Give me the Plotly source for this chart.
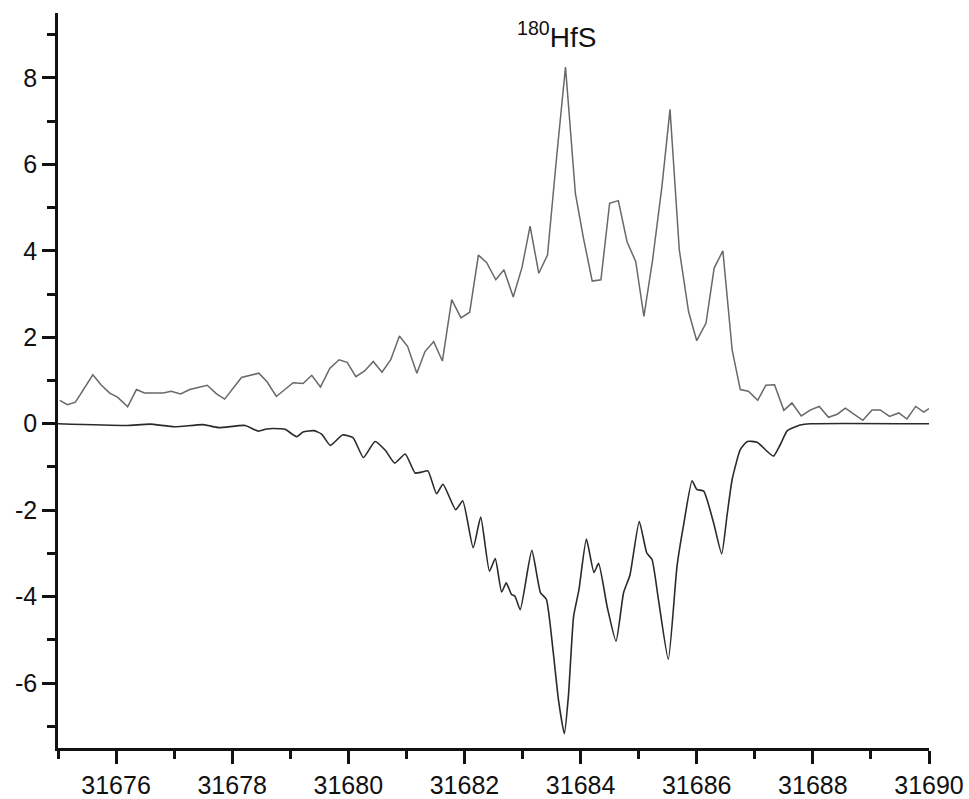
import plotly.graph_objects as go

# Experimental (upper) trace
exp_x = [31675.03, 31675.16, 31675.30, 31675.60, 31675.74, 31675.89, 31676.03, 31676.20,
         31676.35, 31676.49, 31676.66, 31676.81, 31676.95, 31677.11, 31677.27, 31677.41,
         31677.57, 31677.73, 31677.87, 31678.16, 31678.30, 31678.46, 31678.60, 31678.76,
         31679.05, 31679.22, 31679.37, 31679.52, 31679.68, 31679.84, 31679.98, 31680.13,
         31680.28, 31680.43, 31680.58, 31680.73, 31680.88, 31681.02, 31681.18, 31681.32,
         31681.47, 31681.62, 31681.78, 31681.94, 31682.09, 31682.24, 31682.38, 31682.54,
         31682.68, 31682.84, 31682.99, 31683.13, 31683.28, 31683.43, 31683.59, 31683.74,
         31683.91, 31684.05, 31684.20, 31684.35, 31684.50, 31684.65, 31684.80, 31684.95,
         31685.09, 31685.24, 31685.40, 31685.54, 31685.70, 31685.86, 31686.00, 31686.16,
         31686.30, 31686.45, 31686.61, 31686.75, 31686.89, 31687.05, 31687.19, 31687.34,
         31687.50, 31687.64, 31687.80, 31687.96, 31688.11, 31688.27, 31688.42, 31688.56,
         31688.70, 31688.86, 31689.02, 31689.16, 31689.32, 31689.48, 31689.62, 31689.77,
         31689.91, 31690.00]
exp_y = [0.54, 0.44, 0.50, 1.13, 0.90, 0.71, 0.61, 0.39,
         0.79, 0.71, 0.71, 0.71, 0.75, 0.69, 0.79, 0.84,
         0.89, 0.69, 0.57, 1.07, 1.12, 1.17, 0.97, 0.63,
         0.95, 0.93, 1.12, 0.85, 1.28, 1.48, 1.42, 1.09,
         1.22, 1.44, 1.19, 1.48, 2.03, 1.79, 1.17, 1.67,
         1.90, 1.45, 2.87, 2.45, 2.58, 3.90, 3.73, 3.33,
         3.56, 2.93, 3.61, 4.57, 3.48, 3.90, 6.21, 8.25,
         5.33, 4.29, 3.30, 3.33, 5.10, 5.16, 4.21, 3.75,
         2.48, 3.79, 5.48, 7.27, 4.02, 2.59, 1.92, 2.33,
         3.60, 4.00, 1.71, 0.79, 0.75, 0.54, 0.89, 0.90,
         0.31, 0.48, 0.18, 0.32, 0.40, 0.15, 0.22, 0.36,
         0.23, 0.08, 0.32, 0.32, 0.17, 0.25, 0.11, 0.40,
         0.27, 0.35]

# Simulated (lower, inverted) trace
sim_x = [31675.00, 31676.18, 31676.58, 31677.01, 31677.50, 31677.77, 31678.22, 31678.45,
         31678.59, 31678.70, 31678.91, 31679.11, 31679.22, 31679.41, 31679.54, 31679.69,
         31679.90, 31680.08, 31680.26, 31680.46, 31680.64, 31680.80, 31680.98, 31681.15,
         31681.26, 31681.37, 31681.52, 31681.63, 31681.85, 31681.97, 31682.15, 31682.28,
         31682.43, 31682.53, 31682.64, 31682.72, 31682.81, 31682.87, 31682.96, 31683.16,
         31683.31, 31683.41, 31683.53, 31683.62, 31683.72, 31683.79, 31683.88, 31683.97,
         31684.10, 31684.23, 31684.31, 31684.46, 31684.61, 31684.74, 31684.85, 31685.01,
         31685.14, 31685.23, 31685.34, 31685.51, 31685.66, 31685.77, 31685.92, 31686.00,
         31686.12, 31686.29, 31686.43, 31686.52, 31686.61, 31686.75, 31686.87, 31687.04,
         31687.32, 31687.44, 31687.56, 31687.78, 31687.96, 31690.00]
sim_y = [0.00, -0.04, -0.01, -0.07, -0.02, -0.09, -0.04, -0.17,
         -0.12, -0.11, -0.13, -0.30, -0.19, -0.16, -0.24, -0.50,
         -0.26, -0.32, -0.78, -0.41, -0.62, -0.91, -0.70, -1.14,
         -1.12, -1.09, -1.62, -1.40, -1.99, -1.78, -2.87, -2.16,
         -3.41, -3.12, -3.89, -3.68, -3.95, -3.99, -4.30, -2.93,
         -3.91, -4.06, -5.30, -6.40, -7.17, -6.30, -4.45, -3.85,
         -2.67, -3.44, -3.23, -4.25, -5.03, -3.91, -3.50, -2.26,
         -2.99, -3.14, -4.06, -5.45, -3.30, -2.37, -1.32, -1.52,
         -1.56, -2.29, -3.01, -2.14, -1.29, -0.60, -0.41, -0.43,
         -0.75, -0.48, -0.16, -0.03, 0.00, 0.00]

x_ticks = [31676, 31678, 31680, 31682, 31684, 31686, 31688, 31690]
y_ticks = [-6, -4, -2, 0, 2, 4, 6, 8]

fig = go.Figure()
fig.add_trace(go.Scatter(x=exp_x, y=exp_y, mode="lines",
                         line=dict(color="#686868", width=1.5), showlegend=False))
fig.add_trace(go.Scatter(x=sim_x, y=sim_y, mode="lines",
                         line=dict(color="#2a2a2a", width=1.6, shape="spline", smoothing=0.5),
                         showlegend=False))

fig.add_annotation(x=31683.58, y=9.0, xref="x", yref="y",
                   text="<sup>180</sup>HfS", showarrow=False,
                   font=dict(family="Arial, Liberation Sans", size=28, color="#111"),
                   xanchor="center", yanchor="middle")

fig.update_layout(
    width=969, height=799,
    margin=dict(l=58, r=40, t=13, b=51),
    paper_bgcolor="white", plot_bgcolor="white",
    xaxis=dict(range=[31675, 31690], tickvals=x_ticks, ticktext=[str(v) for v in x_ticks],
               automargin=False,
               showgrid=False, zeroline=False, showline=True, linecolor="#111", linewidth=2.5,
               ticks="outside", ticklen=13, tickwidth=2.5, tickcolor="#111",
               tickfont=dict(family="Arial, Liberation Sans", size=25, color="#111"),
               minor=dict(tickvals=[31675, 31677, 31679, 31681, 31683, 31685, 31687, 31689],
                          ticks="outside", ticklen=8, tickwidth=2.5, tickcolor="#111", showgrid=False)),
    yaxis=dict(range=[-7.5, 9.5], tickvals=y_ticks, ticktext=[str(v) for v in y_ticks],
               automargin=False,
               showgrid=False, zeroline=False, showline=True, linecolor="#111", linewidth=2.5,
               ticks="outside", ticklen=13, tickwidth=2.5, tickcolor="#111",
               tickfont=dict(family="Arial, Liberation Sans", size=25, color="#111"),
               minor=dict(tickvals=[-7, -5, -3, -1, 1, 3, 5, 7, 9],
                          ticks="outside", ticklen=8, tickwidth=2.5, tickcolor="#111", showgrid=False)),
)

fig.write_html("out.html")
